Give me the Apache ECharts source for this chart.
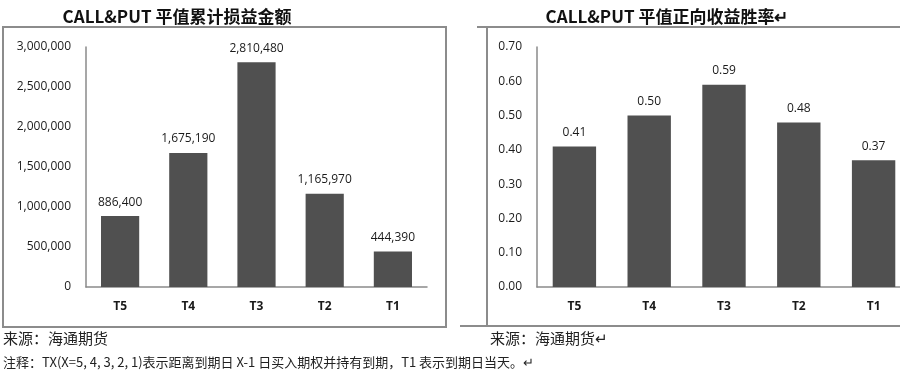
<!DOCTYPE html>
<html>
<head>
<meta charset="utf-8">
<script src="https://cdn.jsdelivr.net/npm/echarts@6/dist/echarts.min.js"></script>
<style>
html,body{margin:0;padding:0;background:#fff;}
#main{width:900px;height:376px;}
</style>
</head>
<body>
<div id="main"></div>
<script>
var categories = ['T5', 'T4', 'T3', 'T2', 'T1'];
var pnlValues = [886400, 1675190, 2810480, 1165970, 444390];
var winRates = [0.41, 0.50, 0.59, 0.48, 0.37];
var titleLeft = 'CALL&PUT 平值累计损益金额';
var titleRight = 'CALL&PUT 平值正向收益胜率↵';
var sourceText = '来源：海通期货';
var noteText = '注释：TX(X=5, 4, 3, 2, 1)表示距离到期日 X-1 日买入期权并持有到期，T1 表示到期日当天。↵';

var myChart = echarts.init(document.getElementById('main'));

var barColor = '#505050';
var axisGrey = '#8a8a8a';
var labelFont = {color: '#1a1a1a', fontSize: 12, fontFamily: 'Open Sans'};

function fmtThousands(v){
    return String(Math.round(v)).replace(/\B(?=(\d{3})+(?!\d))/g, ',');
}

var option = {
    animation: false,
    backgroundColor: '#fff',
    title: [
        {text: titleLeft, left: 172, top: 3, textAlign: 'center',
         textStyle: {fontSize: 17, fontWeight: 'bold', color: '#111', fontFamily: 'Noto Sans CJK SC'}},
        {text: titleRight, left: 662, top: 3, textAlign: 'center',
         textStyle: {fontSize: 17, fontWeight: 'bold', color: '#111', fontFamily: 'Noto Sans CJK SC'}}
    ],
    grid: [
        {left: 86, top: 47, width: 341, height: 240, outerBoundsMode: 'none'},
        {left: 537, top: 47, width: 374, height: 240, outerBoundsMode: 'none'}
    ],
    xAxis: [
        {gridIndex: 0, type: 'category', data: categories,
         axisLine: {lineStyle: {color: axisGrey, width: 1.5}}, axisTick: {show: false},
         axisLabel: Object.assign({margin: 14, fontWeight: 'bold'}, labelFont)},
        {gridIndex: 1, type: 'category', data: categories,
         axisLine: {lineStyle: {color: axisGrey, width: 1.5}}, axisTick: {show: false},
         axisLabel: Object.assign({margin: 14, fontWeight: 'bold'}, labelFont)}
    ],
    yAxis: [
        {gridIndex: 0, type: 'value', min: 0, max: 3000000, interval: 500000,
         axisLine: {show: true, lineStyle: {color: axisGrey, width: 1.5}}, axisTick: {show: false},
         splitLine: {show: false},
         axisLabel: Object.assign({margin: 15, formatter: fmtThousands}, labelFont)},
        {gridIndex: 1, type: 'value', min: 0, max: 0.7, interval: 0.1,
         axisLine: {show: true, lineStyle: {color: axisGrey, width: 1.5}}, axisTick: {show: false},
         splitLine: {show: false},
         axisLabel: Object.assign({margin: 15, formatter: function(v){ return v.toFixed(2); }}, labelFont)}
    ],
    series: [
        {type: 'bar', xAxisIndex: 0, yAxisIndex: 0, data: pnlValues, barWidth: '56%',
         itemStyle: {color: barColor},
         label: Object.assign({show: true, position: 'top', distance: 8,
             formatter: function(p){ return fmtThousands(p.value); }}, labelFont)},
        {type: 'bar', xAxisIndex: 1, yAxisIndex: 1, data: winRates, barWidth: '58%',
         itemStyle: {color: barColor},
         label: Object.assign({show: true, position: 'top', distance: 8,
             formatter: function(p){ return p.value.toFixed(2); }}, labelFont)}
    ],
    graphic: [
        // left frame
        {type: 'rect', shape: {x: 3, y: 27, width: 443, height: 300},
         style: {fill: 'none', stroke: '#8c8c8c', lineWidth: 2}, silent: true},
        // right frame (clipped at right edge)
        {type: 'line', shape: {x1: 477, y1: 27, x2: 900, y2: 27},
         style: {stroke: '#8c8c8c', lineWidth: 2}, silent: true},
        {type: 'line', shape: {x1: 487, y1: 27, x2: 487, y2: 326},
         style: {stroke: '#8c8c8c', lineWidth: 2}, silent: true},
        {type: 'line', shape: {x1: 460, y1: 326, x2: 900, y2: 326},
         style: {stroke: '#8c8c8c', lineWidth: 2}, silent: true},
        {type: 'text', left: 3, top: 331,
         style: {text: sourceText, fontSize: 15, fill: '#222', fontFamily: 'Noto Sans CJK SC'}},
        {type: 'text', left: 490, top: 331,
         style: {text: sourceText + '↵', fontSize: 15, fill: '#222', fontFamily: 'Noto Sans CJK SC'}},
        {type: 'text', left: 3, top: 356,
         style: {text: noteText, fontSize: 13, fill: '#222', fontFamily: 'Noto Sans CJK SC'}}
    ]
};

myChart.setOption(option);
</script>
</body>
</html>
